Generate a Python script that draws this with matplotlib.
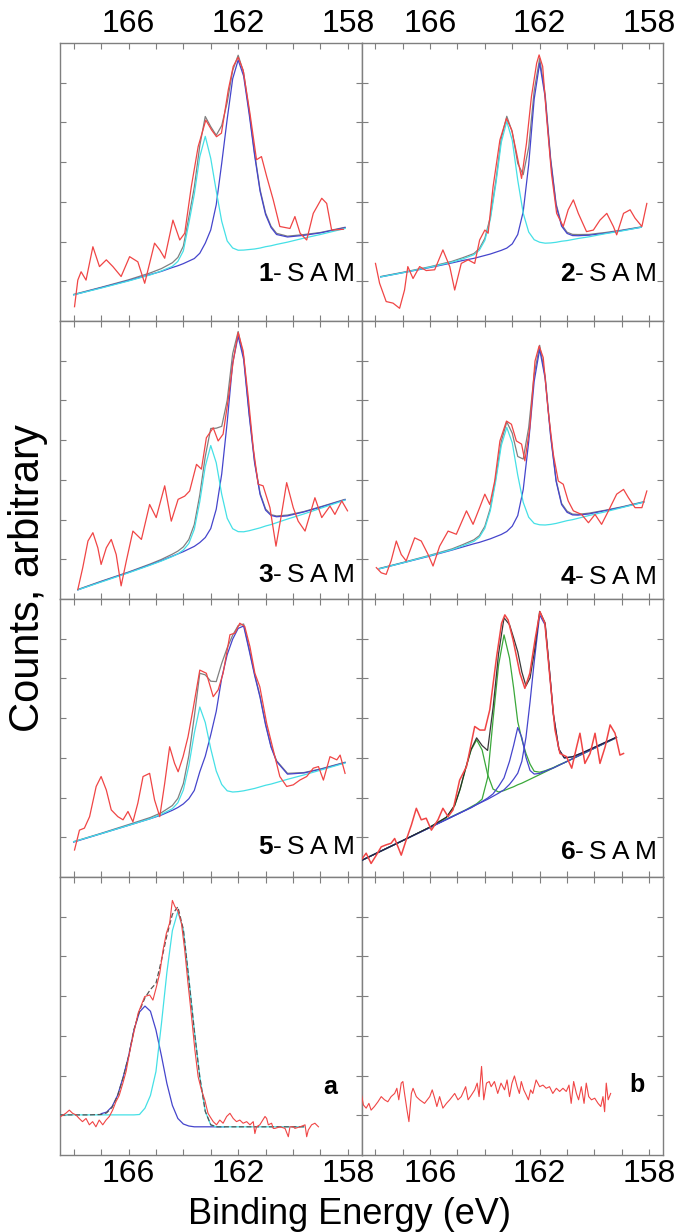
import numpy as np
import matplotlib
matplotlib.use('Agg')
import matplotlib.pyplot as plt

plt.rcParams['font.family'] = ['Liberation Sans', 'DejaVu Sans']
plt.rcParams['mathtext.fontset'] = 'custom'
plt.rcParams['mathtext.rm'] = 'Liberation Sans'
plt.rcParams['mathtext.bf'] = 'Liberation Sans:bold'

# axis layout values
x_major = [166, 162, 158]
x_minor = list(range(158, 169))
y_ticks = [1, 2, 3, 4, 5, 6]

# ---------------- panel 1-SAM ----------------
p1_raw_x = [167.97, 167.85, 167.73, 167.55, 167.30, 167.06, 166.81, 166.57, 166.27, 165.96, 165.66, 165.41, 165.05,
            164.86, 164.68, 164.38, 164.13, 163.95, 163.71, 163.46, 163.18, 162.97, 162.79, 162.61, 162.36, 162.18,
            162.00, 161.82, 161.57, 161.33, 161.15, 160.96, 160.72, 160.48, 160.11, 159.93, 159.74, 159.50, 159.26,
            158.95, 158.77, 158.59, 158.16]
p1_raw_y = [0.36, 1.03, 1.24, 1.03, 1.87, 1.37, 1.54, 1.37, 1.12, 1.62, 1.49, 0.95, 1.96, 1.79, 1.58, 2.54, 2.04,
            2.21, 3.38, 4.39, 5.06, 4.81, 4.64, 4.73, 5.82, 6.41, 6.64, 6.32, 5.23, 4.06, 4.14, 3.64, 3.05, 2.38,
            2.33, 2.63, 2.21, 2.04, 2.71, 3.09, 2.96, 2.29, 2.31]
p1_fit_x = [168.0, 167.0, 166.0, 165.2, 164.8, 164.4, 164.2, 164.0, 163.8, 163.6, 163.4, 163.2, 163.0, 162.8,
            162.6, 162.4, 162.2, 162.0, 161.8, 161.6, 161.4, 161.2, 161.0, 160.8, 160.6, 160.2, 159.6, 159.0, 158.1]
p1_base_x = [168.0, 158.1]
p1_base_y = [0.65, 2.32]
p1_blue = [0.01, 0.02, 0.03, 0.05, 0.06, 0.09, 0.10, 0.12, 0.15, 0.18, 0.28, 0.50, 0.80, 1.40, 2.41, 3.49, 4.47,
           4.91, 4.47, 3.49, 2.41, 1.47, 0.85, 0.49, 0.28, 0.15, 0.09, 0.05, 0.03]
p1_cyan = [0.01, 0.01, 0.02, 0.04, 0.07, 0.12, 0.21, 0.44, 1.10, 1.80, 2.71, 3.19, 2.60, 1.75, 0.95, 0.42, 0.21,
           0.12, 0.09, 0.07, 0.05, 0.04, 0.04, 0.03, 0.03, 0.02, 0.02, 0.01, 0.01]

# ---------------- panel 2-SAM ----------------
p2_raw_x = [167.99, 167.84, 167.60, 167.35, 167.11, 166.93, 166.81, 166.62, 166.38, 166.14, 165.83, 165.53, 165.28,
            165.10, 164.86, 164.61, 164.37, 164.19, 164.00, 163.88, 163.70, 163.45, 163.21, 163.02, 162.84, 162.66,
            162.48, 162.30, 162.11, 162.02, 161.89, 161.75, 161.57, 161.38, 161.14, 160.96, 160.77, 160.59, 160.29,
            160.04, 159.80, 159.55, 159.31, 159.19, 158.94, 158.70, 158.52, 158.27, 158.09]
p2_raw_y = [1.45, 0.95, 0.49, 0.45, 0.32, 0.78, 1.37, 1.07, 1.37, 1.27, 1.29, 1.79, 1.37, 0.78, 1.45, 1.54, 1.45,
            2.04, 2.29, 2.21, 3.38, 4.56, 5.10, 4.81, 4.22, 3.59, 4.48, 5.65, 6.49, 6.70, 6.41, 5.15, 3.72, 2.71,
            2.38, 2.80, 3.05, 2.71, 2.25, 2.29, 2.54, 2.71, 2.38, 2.17, 2.71, 2.80, 2.59, 2.38, 2.96]
p2_fit_x = [167.8, 167.0, 166.0, 165.2, 164.8, 164.4, 164.2, 164.0, 163.8, 163.6, 163.4, 163.2, 163.0, 162.8,
            162.6, 162.4, 162.2, 162.0, 161.8, 161.6, 161.4, 161.2, 161.0, 160.8, 160.6, 160.2, 159.6, 159.0, 158.3]
p2_base_x = [167.8, 158.3]
p2_base_y = [1.10, 2.35]
p2_blue = [0.01, 0.01, 0.01, 0.02, 0.03, 0.03, 0.04, 0.05, 0.06, 0.08, 0.10, 0.13, 0.21, 0.42, 0.97, 2.13, 3.75,
           4.63, 3.75, 2.13, 0.97, 0.42, 0.21, 0.13, 0.10, 0.06, 0.03, 0.02, 0.01]
p2_cyan = [0.01, 0.01, 0.02, 0.04, 0.07, 0.12, 0.21, 0.43, 0.93, 1.79, 2.82, 3.32, 2.82, 1.79, 0.93, 0.43, 0.21,
           0.12, 0.07, 0.05, 0.04, 0.04, 0.03, 0.03, 0.03, 0.02, 0.02, 0.01, 0.01]

# ---------------- panel 3-SAM ----------------
p3_raw_x = [167.85, 167.67, 167.48, 167.30, 167.12, 167.00, 166.81, 166.63, 166.45, 166.27, 166.08, 165.84, 165.53,
            165.23, 164.99, 164.68, 164.44, 164.19, 163.95, 163.77, 163.52, 163.34, 163.16, 162.91, 162.73, 162.55,
            162.37, 162.18, 162.00, 161.82, 161.63, 161.45, 161.27, 161.09, 160.84, 160.62, 160.42, 160.23, 159.99,
            159.81, 159.56, 159.20, 158.95, 158.65, 158.47, 158.22, 158.01]
p3_raw_y = [0.24, 0.79, 1.46, 1.67, 1.29, 0.87, 1.29, 1.50, 1.12, 0.33, 0.96, 1.71, 1.50, 2.38, 2.05, 2.85, 1.96,
            2.51, 2.59, 2.72, 3.39, 3.27, 4.06, 4.31, 3.98, 4.15, 4.99, 5.99, 6.71, 6.25, 5.07, 3.81, 2.89, 2.85,
            2.30, 1.33, 2.13, 2.93, 2.30, 1.96, 1.71, 2.55, 2.05, 2.34, 2.13, 2.47, 2.22]
p3_fit_x = [167.85, 167.0, 166.0, 165.2, 164.8, 164.4, 164.2, 164.0, 163.8, 163.6, 163.4, 163.2, 163.0, 162.8,
            162.6, 162.4, 162.2, 162.0, 161.8, 161.6, 161.4, 161.2, 161.0, 160.8, 160.6, 160.2, 159.6, 159.0, 158.1]
p3_base_x = [167.85, 158.1]
p3_base_y = [0.22, 2.48]
p3_blue = [0.01, 0.02, 0.02, 0.03, 0.04, 0.06, 0.07, 0.08, 0.10, 0.12, 0.17, 0.25, 0.43, 0.87, 1.71, 2.97, 4.41,
           5.04, 4.41, 2.97, 1.71, 0.87, 0.43, 0.25, 0.17, 0.10, 0.06, 0.04, 0.02]
p3_cyan = [0.01, 0.01, 0.01, 0.02, 0.03, 0.05, 0.07, 0.12, 0.24, 0.55, 1.20, 2.04, 2.52, 2.04, 1.20, 0.55, 0.24,
           0.12, 0.07, 0.05, 0.04, 0.03, 0.03, 0.02, 0.02, 0.02, 0.01, 0.01, 0.01]

# ---------------- panel 4-SAM ----------------
p4_raw_x = [167.96, 167.78, 167.60, 167.42, 167.23, 167.05, 166.87, 166.56, 166.32, 166.07, 165.89, 165.65, 165.34,
            165.04, 164.67, 164.43, 164.19, 164.00, 163.82, 163.64, 163.45, 163.21, 163.03, 162.85, 162.66, 162.54,
            162.36, 162.17, 162.02, 161.87, 161.69, 161.50, 161.32, 161.14, 160.96, 160.77, 160.47, 160.22, 159.98,
            159.74, 159.49, 159.19, 158.94, 158.76, 158.52, 158.27, 158.09]
p4_raw_y = [0.79, 0.66, 0.62, 0.96, 1.46, 1.12, 0.96, 1.54, 1.46, 1.12, 0.83, 1.33, 1.71, 1.63, 2.22, 1.88, 2.30,
            2.64, 2.38, 2.97, 3.98, 4.48, 4.40, 3.98, 3.90, 3.48, 4.31, 5.99, 6.37, 6.08, 4.74, 3.64, 2.97, 2.89,
            2.47, 2.22, 2.13, 1.92, 2.13, 1.88, 2.22, 2.64, 2.76, 2.55, 2.30, 2.30, 2.72]
p4_fit_x = [167.85, 167.0, 166.0, 165.2, 164.8, 164.4, 164.2, 164.0, 163.8, 163.6, 163.4, 163.2, 163.0, 162.8,
            162.6, 162.4, 162.2, 162.0, 161.8, 161.6, 161.4, 161.2, 161.0, 160.8, 160.6, 160.2, 159.6, 159.0, 158.2]
p4_base_x = [167.85, 158.2]
p4_base_y = [0.75, 2.43]
p4_blue = [0.01, 0.01, 0.01, 0.02, 0.03, 0.04, 0.04, 0.05, 0.06, 0.08, 0.10, 0.14, 0.24, 0.47, 1.09, 2.26, 3.75,
           4.52, 3.75, 2.26, 1.09, 0.47, 0.24, 0.14, 0.10, 0.06, 0.04, 0.02, 0.01]
p4_cyan = [0.01, 0.01, 0.02, 0.03, 0.06, 0.10, 0.17, 0.36, 0.77, 1.49, 2.34, 2.76, 2.34, 1.49, 0.77, 0.36, 0.17,
           0.10, 0.06, 0.04, 0.03, 0.03, 0.03, 0.02, 0.02, 0.02, 0.01, 0.01, 0.01]

# ---------------- panel 5-SAM ----------------
p5_raw_x = [167.97, 167.79, 167.61, 167.42, 167.18, 167.00, 166.81, 166.63, 166.39, 166.20, 166.02, 165.84, 165.66,
            165.47, 165.23, 165.05, 164.86, 164.68, 164.50, 164.32, 164.19, 164.01, 163.83, 163.65, 163.40, 163.16,
            162.91, 162.73, 162.55, 162.30, 162.12, 161.94, 161.76, 161.57, 161.39, 161.21, 160.96, 160.72, 160.48,
            160.23, 159.99, 159.75, 159.50, 159.26, 159.07, 158.89, 158.65, 158.40, 158.28, 158.10]
p5_raw_y = [0.68, 1.18, 1.23, 1.52, 2.28, 2.53, 2.19, 1.69, 1.52, 1.44, 1.65, 1.39, 1.86, 2.53, 2.61, 1.94, 1.52,
            2.36, 3.28, 2.86, 2.65, 3.03, 3.53, 4.21, 5.21, 5.13, 4.54, 4.71, 5.13, 6.10, 6.14, 6.39, 6.31, 5.80,
            5.13, 4.79, 3.87, 3.20, 2.53, 2.28, 2.32, 2.44, 2.53, 2.74, 2.78, 2.44, 3.03, 2.95, 3.07, 2.61]
p5_fit_x = [168.0, 167.0, 166.0, 165.2, 164.8, 164.4, 164.2, 164.0, 163.8, 163.6, 163.4, 163.2, 163.0, 162.8,
            162.6, 162.4, 162.2, 162.0, 161.8, 161.6, 161.4, 161.2, 161.0, 160.8, 160.6, 160.2, 159.6, 159.0, 158.1]
p5_base_x = [168.0, 158.1]
p5_base_y = [0.88, 2.86]
p5_blue = [0.00, 0.01, 0.02, 0.03, 0.04, 0.08, 0.11, 0.16, 0.25, 0.42, 0.85, 1.20, 1.70, 2.25, 3.05, 3.60, 3.95,
           4.18, 4.20, 3.55, 2.88, 2.28, 1.55, 0.95, 0.55, 0.15, 0.06, 0.03, 0.02]
p5_cyan = [0.01, 0.01, 0.02, 0.03, 0.06, 0.12, 0.23, 0.51, 1.08, 1.86, 2.48, 2.05, 1.35, 0.75, 0.37, 0.17, 0.10,
           0.07, 0.05, 0.04, 0.03, 0.03, 0.03, 0.02, 0.02, 0.02, 0.01, 0.01, 0.01]

# ---------------- panel 6-SAM ----------------
p6_raw_x = [168.51, 168.33, 168.15, 167.96, 167.78, 167.60, 167.42, 167.29, 167.05, 166.87, 166.68, 166.50, 166.32,
            166.14, 165.95, 165.71, 165.53, 165.34, 165.16, 164.92, 164.67, 164.37, 164.18, 164.00, 163.82, 163.57,
            163.39, 163.27, 163.15, 162.97, 162.72, 162.54, 162.36, 162.17, 161.99, 161.81, 161.63, 161.44, 161.26,
            161.02, 160.83, 160.65, 160.53, 160.35, 160.16, 159.98, 159.80, 159.61, 159.43, 159.25, 159.07, 158.94]
p6_raw_y = [0.43, 0.60, 0.34, 0.55, 0.76, 0.81, 0.85, 0.97, 0.55, 0.93, 1.31, 1.73, 1.44, 1.48, 1.18, 1.44, 1.73,
            1.52, 1.69, 2.44, 2.78, 3.79, 3.70, 3.70, 4.21, 5.55, 6.39, 6.60, 6.47, 5.97, 5.13, 4.75, 5.13, 5.97,
            6.68, 6.39, 5.05, 3.70, 3.11, 3.03, 2.74, 3.28, 3.62, 2.86, 3.11, 3.62, 2.86, 3.28, 3.83, 3.62, 3.07,
            3.11]
p6_fit_x = [168.55, 167.0, 166.0, 165.4, 165.1, 164.9, 164.7, 164.5, 164.3, 164.1, 163.9, 163.7, 163.5, 163.3,
            163.1, 162.95, 162.8, 162.65, 162.5, 162.35, 162.2, 162.0, 161.8, 161.65, 161.5, 161.3, 161.1, 160.8,
            160.4, 159.8, 159.2]
p6_base_x = [168.55, 159.2]
p6_base_y = [0.40, 3.51]
p6_green1 = [0, 0, 0.01, 0.05, 0.25, 0.60, 1.05, 1.45, 1.64, 1.32, 0.64, 0.20, 0.06, 0.03, 0.02, 0.01, 0.01,
             0, 0, 0, 0, 0, 0, 0, 0, 0, 0, 0, 0, 0, 0]
p6_green2 = [0, 0, 0, 0.01, 0.01, 0.01, 0.01, 0.02, 0.03, 0.08, 0.55, 1.95, 3.25, 3.95, 3.30, 2.50, 1.60, 1.10,
             0.70, 0.38, 0.15, 0.06, 0.03, 0.02, 0.01, 0.01, 0, 0, 0, 0, 0]
p6_blue1 = [0, 0, 0, 0, 0, 0, 0, 0, 0.01, 0.02, 0.04, 0.08, 0.20, 0.35, 0.70, 1.05, 1.45, 1.15, 0.60, 0.22, 0.08,
            0.03, 0.02, 0.01, 0, 0, 0, 0, 0, 0, 0]
p6_blue2 = [0, 0, 0, 0, 0, 0, 0, 0, 0.01, 0.01, 0.01, 0.02, 0.03, 0.05, 0.12, 0.20, 0.30, 0.55, 1.10, 1.95, 2.90,
            4.02, 3.70, 2.55, 1.35, 0.40, 0.12, 0.05, 0.03, 0.02, 0.01]

# ---------------- panel a ----------------
pa_raw_x = [168.47, 168.29, 168.16, 168.04, 167.92, 167.80, 167.68, 167.55, 167.43, 167.31, 167.19, 167.07, 166.94,
            166.82, 166.70, 166.58, 166.46, 166.34, 166.21, 166.09, 165.97, 165.84, 165.65, 165.53, 165.41, 165.23,
            165.11, 164.98, 164.86, 164.74, 164.62, 164.50, 164.40, 164.31, 164.19, 164.07, 163.95, 163.83, 163.70,
            163.58, 163.46, 163.34, 163.22, 163.10, 163.03, 162.91, 162.79, 162.67, 162.55, 162.42, 162.30, 162.18,
            162.06, 161.94, 161.82, 161.69, 161.57, 161.45, 161.39, 161.33, 161.21, 161.02, 160.96, 160.90, 160.78,
            160.72, 160.66, 160.47, 160.29, 160.17, 160.11, 159.99, 159.93, 159.74, 159.56, 159.50, 159.44, 159.32,
            159.20, 159.07]
pa_raw_y = [0.97, 1.05, 1.13, 1.05, 1.01, 0.92, 0.84, 0.92, 0.76, 0.84, 0.71, 0.88, 0.76, 0.88, 0.97, 1.13, 1.34,
            1.50, 1.80, 2.10, 2.55, 2.98, 3.57, 3.78, 3.99, 4.03, 3.90, 4.24, 4.58, 5.16, 5.58, 5.84, 6.41, 6.26,
            6.13, 5.84, 5.16, 4.32, 3.48, 2.65, 1.97, 1.64, 1.39, 1.05, 0.97, 0.84, 0.76, 0.88, 0.80, 0.97, 1.05,
            0.92, 0.84, 0.88, 0.80, 0.84, 0.76, 0.84, 0.54, 0.71, 0.76, 0.97, 0.92, 0.76, 0.80, 0.67, 0.67, 0.71,
            0.67, 0.46, 0.71, 0.71, 0.67, 0.71, 0.76, 0.46, 0.63, 0.76, 0.80, 0.71]
pa_fit_x = [168.5, 167.5, 167.0, 166.8, 166.6, 166.4, 166.2, 166.0, 165.8, 165.6, 165.4, 165.2, 165.0, 164.8,
            164.6, 164.4, 164.2, 164.0, 163.8, 163.6, 163.4, 163.2, 163.0, 162.8, 162.5, 162.0, 161.0, 160.0, 159.6]
pa_cyan = [1.01, 1.01, 1.01, 1.01, 1.01, 1.01, 1.01, 1.01, 1.01, 1.02, 1.18, 1.50, 2.10, 3.30, 4.60, 5.65, 6.13,
           5.67, 4.45, 3.15, 1.97, 1.10, 0.76, 0.71, 0.71, 0.71, 0.71, 0.71, 0.71]
pa_blue = [np.nan, np.nan, 1.04, 1.08, 1.22, 1.50, 1.95, 2.48, 3.15, 3.60, 3.75, 3.62, 3.15, 2.50, 1.80, 1.25, 0.92,
           0.78, 0.73, 0.71, 0.71, 0.71, 0.71, 0.71, 0.71, np.nan, np.nan, np.nan, np.nan]
pa_bg = [1.03, 1.03, 1.03, 1.03, 1.03, 1.02, 1.02, 1.01, 1.00, 0.99, 0.97, 0.95, 0.93, 0.90, 0.87, 0.84, 0.80,
         0.77, 0.75, 0.73, 0.72, 0.71, 0.71, 0.71, 0.71, 0.71, 0.71, 0.71, 0.71]

# ---------------- panel b ----------------
pb_raw_x = [168.51, 168.43, 168.33, 168.23, 168.15, 168.03, 167.90, 167.78, 167.66, 167.54, 167.42, 167.29, 167.21,
            167.14, 167.05, 166.99, 166.93, 166.84, 166.77, 166.68, 166.62, 166.50, 166.38, 166.20, 166.01, 165.92,
            165.83, 165.75, 165.65, 165.53, 165.40, 165.28, 165.10, 164.98, 164.86, 164.70, 164.61, 164.49, 164.37,
            164.28, 164.21, 164.12, 164.04, 163.94, 163.84, 163.77, 163.65, 163.53, 163.41, 163.28, 163.19, 163.10,
            163.01, 162.92, 162.82, 162.74, 162.67, 162.58, 162.49, 162.41, 162.33, 162.25, 162.13, 162.00, 161.88,
            161.76, 161.64, 161.52, 161.39, 161.27, 161.15, 161.03, 160.93, 160.85, 160.76, 160.66, 160.58, 160.48,
            160.38, 160.30, 160.21, 160.11, 159.99, 159.87, 159.77, 159.69, 159.63, 159.57, 159.50, 159.41]
pb_raw_y = [1.55, 1.26, 1.18, 1.30, 1.13, 1.22, 1.34, 1.47, 1.39, 1.34, 1.47, 1.55, 1.68, 1.39, 1.81, 1.85, 1.55,
            1.13, 0.84, 1.55, 1.68, 1.47, 1.39, 1.30, 1.47, 1.64, 1.43, 1.22, 1.47, 1.18, 1.30, 1.39, 1.55, 1.39,
            1.47, 1.72, 1.39, 1.51, 1.64, 1.81, 1.47, 2.23, 1.39, 1.81, 1.85, 1.72, 1.85, 1.55, 1.81, 1.64, 1.89,
            1.47, 1.81, 1.99, 1.72, 1.55, 1.85, 1.64, 1.51, 1.39, 1.64, 1.55, 1.89, 1.72, 1.76, 1.68, 1.72, 1.55,
            1.68, 1.60, 1.68, 1.60, 1.76, 1.30, 1.85, 1.55, 1.39, 1.72, 1.30, 1.81, 1.47, 1.39, 1.43, 1.30, 1.22,
            1.47, 1.09, 1.81, 1.39, 1.55]

RED = '#f04545'
BLUE = '#4545cc'
CYAN = '#45e0e6'
GREEN = '#3aa83a'
ENV = '#555555'
FRAME = '#7f7f7f'


def style(ax, row):
    ax.set_xlim(168.5, 157.5)
    ax.set_ylim(0, 7)
    ax.set_xticks(x_major)
    ax.set_xticks(x_minor, minor=True)
    ax.set_yticks(y_ticks)
    ax.tick_params(which='both', direction='in', top=True, bottom=True, left=True, right=True,
                   length=4, width=0.8, color=FRAME, labelleft=False,
                   labelbottom=(row == 3), labeltop=(row == 0), labelsize=23, pad=3)
    for s in ax.spines.values():
        s.set_color(FRAME)
        s.set_linewidth(1.0)


def draw_fit(ax, fx, bx, by, comps, colors, env_on_top=False):
    fx = np.array(fx)
    base = np.interp(fx, bx[::-1], by[::-1])
    env = base + np.sum([np.array(c) for c in comps], axis=0)
    ax.plot(fx, env, color='#222222' if env_on_top else ENV, lw=0.9,
            alpha=0.9 if env_on_top else 0.75, zorder=4 if env_on_top else 2)
    for c, col in zip(comps, colors):
        ax.plot(fx, base + np.array(c), color=col, lw=0.9, zorder=3)


def sam_label(ax, num, y):
    ax.text(0.977, y, r'$\mathbf{%s}$-' % num + '\u2009S\u2009A\u2009M', transform=ax.transAxes,
            ha='right', va='center', fontsize=19)


fig = plt.figure(figsize=(6.8, 12.32), dpi=100)
gs = fig.add_gridspec(4, 2, left=60 / 680, right=663 / 680, top=1 - 43 / 1232, bottom=1 - 1155 / 1232,
                      wspace=0, hspace=0)
axes = [[fig.add_subplot(gs[r, c]) for c in range(2)] for r in range(4)]
for r in range(4):
    for c in range(2):
        style(axes[r][c], r)

sam = [
    (axes[0][0], p1_raw_x, p1_raw_y, p1_fit_x, p1_base_x, p1_base_y, p1_blue, p1_cyan, '1', 0.17),
    (axes[0][1], p2_raw_x, p2_raw_y, p2_fit_x, p2_base_x, p2_base_y, p2_blue, p2_cyan, '2', 0.17),
    (axes[1][0], p3_raw_x, p3_raw_y, p3_fit_x, p3_base_x, p3_base_y, p3_blue, p3_cyan, '3', 0.085),
    (axes[1][1], p4_raw_x, p4_raw_y, p4_fit_x, p4_base_x, p4_base_y, p4_blue, p4_cyan, '4', 0.08),
    (axes[2][0], p5_raw_x, p5_raw_y, p5_fit_x, p5_base_x, p5_base_y, p5_blue, p5_cyan, '5', 0.108),
]
for ax, rx, ry, fx, bx, by, blue, cyan, num, ty in sam:
    draw_fit(ax, fx, bx, by, [blue, cyan], [BLUE, CYAN])
    ax.plot(rx, ry, color=RED, lw=0.9, zorder=5, solid_joinstyle='round')
    sam_label(ax, num, ty)

ax6 = axes[2][1]
draw_fit(ax6, p6_fit_x, p6_base_x, p6_base_y, [p6_green1, p6_green2, p6_blue1, p6_blue2],
         [GREEN, GREEN, BLUE, BLUE], env_on_top=True)
ax6.plot(p6_raw_x, p6_raw_y, color=RED, lw=1.1, zorder=5, solid_joinstyle='round')
sam_label(ax6, '6', 0.09)

axa = axes[3][0]
pa_env = np.array(pa_cyan) + np.nan_to_num(np.array(pa_blue) - np.array(pa_bg))
axa.plot(pa_fit_x, pa_blue, color=BLUE, lw=0.9, zorder=3)
axa.plot(pa_fit_x, pa_cyan, color=CYAN, lw=0.9, zorder=3)
axa.plot(pa_fit_x, pa_env, color=ENV, lw=0.9, ls=(0, (4, 2)), zorder=4)
axa.plot(pa_raw_x, pa_raw_y, color=RED, lw=0.8, zorder=5)
axa.text(0.897, 0.245, 'a', transform=axa.transAxes, ha='center', va='center', fontsize=18, fontweight='bold')

axb = axes[3][1]
axb.plot(pb_raw_x, pb_raw_y, color=RED, lw=0.8, zorder=5)
axb.text(0.914, 0.25, 'b', transform=axb.transAxes, ha='center', va='center', fontsize=18, fontweight='bold')

fig.text(350 / 680, 1 - 1224 / 1232, 'Binding Energy (eV)', ha='center', va='baseline', fontsize=26)
fig.text(28 / 680, 0.531, 'Counts, arbitrary', rotation=90, ha='center', va='center', fontsize=30)

fig.savefig('out.png', dpi=100)
